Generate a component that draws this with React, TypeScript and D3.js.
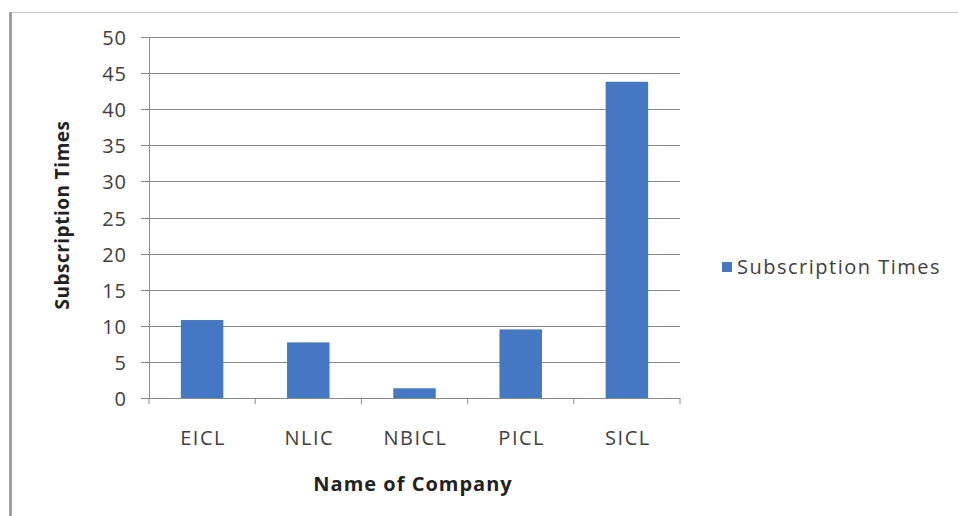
import React from "react";
import { scaleBand, scaleLinear } from "d3";

const companies = ["EICL", "NLIC", "NBICL", "PICL", "SICL"];
const subscriptionTimes = [10.8, 7.7, 1.35, 9.5, 43.8];
const yTicks = [0, 5, 10, 15, 20, 25, 30, 35, 40, 45, 50];
const seriesName = "Subscription Times";

const W = 958;
const H = 516;
const LEFT = 149;
const RIGHT = 680;
const TOP = 37;
const BOTTOM = 398;
const FONT = "'Open Sans', 'DejaVu Sans', sans-serif";
const BAR = "#4478c2";

export default function App() {
  const x = scaleBand<string>().domain(companies).range([LEFT, RIGHT]).paddingInner(0.6).paddingOuter(0.3);
  const band = (RIGHT - LEFT) / companies.length;
  const y = scaleLinear().domain([0, 50]).range([BOTTOM, TOP]);

  return (
    <svg
      width={W}
      height={H}
      style={{ position: "absolute", left: 0, top: 0, background: "#fff" }}
      fontFamily={FONT}
    >
      {/* frame */}
      <line x1={10} x2={W} y1={12.5} y2={12.5} stroke="#c8c8c8" strokeWidth={1} />
      <line x1={10.5} x2={10.5} y1={12} y2={H} stroke="#a0a0a0" strokeWidth={3} />

      {/* gridlines + y ticks */}
      {yTicks.map(v => (
        <g key={v} transform={`translate(0, ${Math.round(y(v)) + 0.5})`}>
          <line x1={LEFT - 8} x2={RIGHT} stroke="#8a8a8a" strokeWidth={1} />
          <text x={127} dy="0.36em" textAnchor="end" fontSize={20} letterSpacing={1} fill="#404040">
            {v}
          </text>
        </g>
      ))}
      <line x1={LEFT + 0.5} x2={LEFT + 0.5} y1={TOP} y2={BOTTOM} stroke="#8a8a8a" />

      {/* bars */}
      {companies.map((c, i) => (
        <rect
          key={c}
          x={x(c)!}
          y={y(subscriptionTimes[i])}
          width={x.bandwidth()}
          height={BOTTOM - y(subscriptionTimes[i])}
          fill={BAR}
        />
      ))}

      {/* x axis */}
      <line x1={LEFT} x2={RIGHT} y1={BOTTOM + 0.5} y2={BOTTOM + 0.5} stroke="#8a8a8a" />
      {companies.concat([""]).map((_, i) => (
        <line
          key={i}
          x1={LEFT + i * band}
          x2={LEFT + i * band}
          y1={BOTTOM}
          y2={BOTTOM + 6}
          stroke="#8a8a8a"
        />
      ))}
      {companies.map(c => (
        <text
          key={c}
          x={x(c)! + x.bandwidth() / 2 + 1}
          y={445}
          textAnchor="middle"
          fontSize={20}
          letterSpacing={1.5}
          fill="#404040"
        >
          {c}
        </text>
      ))}

      {/* axis titles */}
      <text x={413} y={491} textAnchor="middle" fontSize={20} letterSpacing={1} fontWeight="bold" fill="#222">
        Name of Company
      </text>
      <text
        transform="translate(69, 215) rotate(-90)"
        textAnchor="middle"
        fontSize={19}
        letterSpacing={0.5}
        fontWeight="bold"
        fill="#222"
      >
        Subscription Times
      </text>

      {/* legend */}
      <rect x={722} y={262} width={10} height={10} fill={BAR} />
      <text x={737} y={274} fontSize={20} letterSpacing={1.5} fill="#404040">
        {seriesName}
      </text>
    </svg>
  );
}
